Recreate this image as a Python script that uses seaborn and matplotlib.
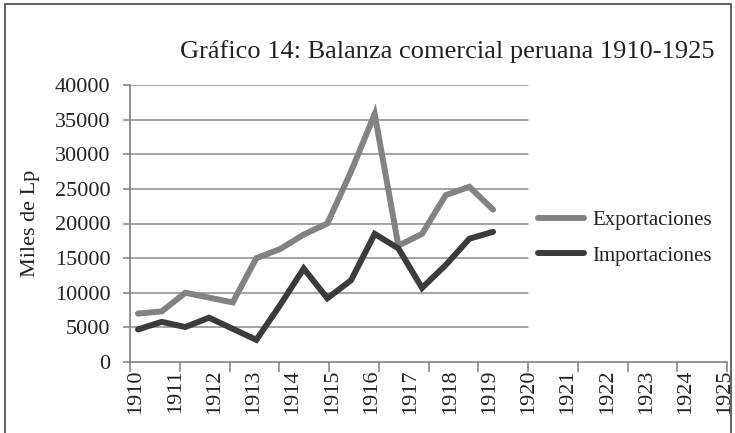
import matplotlib
matplotlib.use("Agg")
import matplotlib.pyplot as plt
import seaborn as sns
import pandas as pd
import numpy as np
from matplotlib.patches import Rectangle
from matplotlib.lines import Line2D

# ---- data ----
years = list(range(1910, 1926))
exportaciones = [7000, 7300, 10000, 9300, 8600, 15000, 16300, 18400,
                 20000, 27500, 35800, 16800, 18500, 24100, 25300, 22000]
importaciones = [4700, 5800, 5050, 6400, 4800, 3200, 8200, 13500,
                 9200, 11800, 18500, 16400, 10700, 14000, 17800, 18800]
tick_labels = [str(y) for y in range(1910, 1926)]
y_ticks = list(range(0, 40001, 5000))
series_names = ["Exportaciones", "Importaciones"]
colors = {"Exportaciones": "#808285", "Importaciones": "#3b3b3b"}

df = pd.concat([
    pd.DataFrame({"pos": [y - years[0] for y in years], "valor": exportaciones, "serie": "Exportaciones"}),
    pd.DataFrame({"pos": [y - years[0] for y in years], "valor": importaciones, "serie": "Importaciones"}),
])

sns.set_theme(style="white")
plt.rcParams["font.family"] = ["Liberation Serif", "DejaVu Serif"]

fig = plt.figure(figsize=(7.35, 4.33), dpi=100)
L, R, B, T = 130 / 735, 727 / 735, 1 - 362 / 433, 1 - 85 / 433
ax = fig.add_axes([L, B, R - L, T - B])

# pixel -> data mapping of the reference (points spaced 23.67 px, first at 138 px)
step = 23.67
x0 = (130 - 138) / step
x1 = (727 - 138) / step
ax.set_xlim(x0, x1)
ax.set_ylim(0, 40000)

grid_frac = (528 - 130) / (727 - 130)
for v in y_ticks[1:]:
    ax.axhline(v, xmin=0, xmax=grid_frac, color="#8a8a8a", lw=1.1, zorder=1)

sns.lineplot(data=df, x="pos", y="valor", hue="serie", palette=colors,
             hue_order=series_names, lw=4.3, ax=ax, legend=False, zorder=3,
             solid_capstyle="round", solid_joinstyle="miter")

# axes styling
for s in ["top", "right"]:
    ax.spines[s].set_visible(False)
for s in ["left", "bottom"]:
    ax.spines[s].set_color("#808080")
    ax.spines[s].set_linewidth(1.2)

ax.set_yticks(y_ticks)
ax.set_yticklabels([str(v) for v in y_ticks])
ax.tick_params(axis="y", direction="out", length=5, width=1.1, color="#808080",
               pad=9, labelsize=16, labelcolor="#222222", left=True)

label_pos = [(136 - 138 + 39.27 * k) / step for k in range(len(tick_labels))]
ax.set_xticks(label_pos)
ax.set_xticklabels(tick_labels, rotation=90)
ax.tick_params(axis="x", which="major", length=0, pad=5.5, labelsize=16,
               labelcolor="#222222")
ax.set_xticks(np.linspace(x0, x1, 13), minor=True)
ax.tick_params(axis="x", which="minor", direction="out", length=7, width=1.1,
               color="#808080", bottom=True)
ax.set_xlabel("")

ax.set_ylabel("Miles de Lp", fontsize=16, color="#222222")
ax.yaxis.set_label_coords((40 - 130) / 597, 0.5)

# legend
handles = [Line2D([0], [0], color=colors[n], lw=4.3, solid_capstyle="round") for n in series_names]
leg = fig.legend(handles, series_names, loc="center left",
                 bbox_to_anchor=(538 / 735, 1 - 238 / 433), frameon=False,
                 fontsize=15, handlelength=2.2, handletextpad=0.4,
                 labelspacing=0.78, borderpad=0, borderaxespad=0)
for t in leg.get_texts():
    t.set_color("#222222")

fig.text(447 / 735, 1 - 52 / 433, "Gráfico 14: Balanza comercial peruana 1910-1925",
         ha="center", va="center", fontsize=19, color="#222222")

fig.patches.append(Rectangle((5 / 735, -0.1), (731 - 5) / 735, 1.1 - 4 / 433,
                             transform=fig.transFigure, fill=False,
                             edgecolor="#555555", lw=1.3))

fig.savefig("out.png", dpi=100)
